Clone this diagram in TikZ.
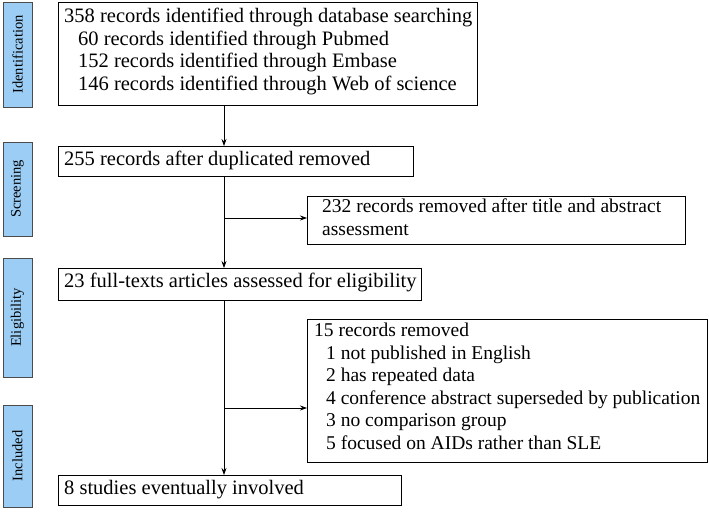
\documentclass[tikz,border=0pt]{standalone}
\usepackage{fontspec}
\setmainfont{Liberation Serif}
\usetikzlibrary{arrows.meta}
\definecolor{barblue}{RGB}{155,205,245}
\begin{document}
\begin{tikzpicture}[x=1pt,y=-1pt,
  bar/.style={draw=black!70,fill=barblue,line width=0.8pt},
  box/.style={draw=black,line width=0.9pt},
  lab/.style={rotate=90,font=\fontsize{14.5}{16}\selectfont},
  txt/.style={anchor=north west,align=left,font=\fontsize{20.5}{22.5}\selectfont,inner sep=0pt},
  arr/.style={-{Stealth[length=7pt,width=5pt]},line width=0.7pt}]
\useasboundingbox (0,0) rectangle (709,513);
% bars
\draw[bar] (3,2) rectangle (32,107); \node[lab] (l1) at (17.5,54.5) {Identification};
\draw[bar] (3,142) rectangle (32,236); \node[lab] (l2) at (17.5,189) {Screening};
\draw[bar] (3,258) rectangle (32,377); \node[lab] (l3) at (17.5,317.5) {Eligibility};
\draw[bar] (3,405) rectangle (32,507); \node[lab] (l4) at (17.5,456) {Included};
% boxes
\draw[box] (58,2) rectangle (477,105);
\node[txt] (t1) at (64,8) {358 records identified through database searching\\
\hspace{14pt}60 records identified through Pubmed\\
\hspace{14pt}152 records identified through Embase\\
\hspace{14pt}146 records identified through Web of science};
\draw[box] (58,146) rectangle (413,176);
\node[txt] (t2) at (64,151) {255 records after duplicated removed};
\draw[box] (307,196) rectangle (685,244);
\node[txt,font=\fontsize{19.5}{22.5}\selectfont] (t3) at (322,199) {232 records removed after title and abstract\\assessment};
\draw[box] (58,268) rectangle (421,300);
\node[txt] (t4) at (64,273) {23 full-texts articles assessed for eligibility};
\draw[box] (307,319) rectangle (707,462);
\node[txt,font=\fontsize{19.5}{22.5}\selectfont] (t5) at (314,323) {15 records removed\\
\hspace{12pt}1 not published in English\\
\hspace{12pt}2 has repeated data\\
\hspace{12pt}4 conference abstract superseded by publication\\
\hspace{12pt}3 no comparison group\\
\hspace{12pt}5 focused on AIDs rather than SLE};
\draw[box] (58,475) rectangle (401,505);
\node[txt] (t6) at (64,480) {8 studies eventually involved};
% connectors
\coordinate (a) at (224,105); \coordinate (b) at (224,146);
\coordinate (c) at (224,176); \coordinate (d) at (224,268);
\coordinate (e) at (224,300); \coordinate (f) at (224,475);
\coordinate (s1) at (224,218); \coordinate (e1) at (307,218);
\coordinate (s2) at (224,408); \coordinate (e2) at (307,408);
\draw[arr] (a) -- (b);
\draw[arr] (c) -- (d);
\draw[arr] (e) -- (f);
\draw[arr] (s1) -- (e1);
\draw[arr] (s2) -- (e2);
\end{tikzpicture}
\end{document}
